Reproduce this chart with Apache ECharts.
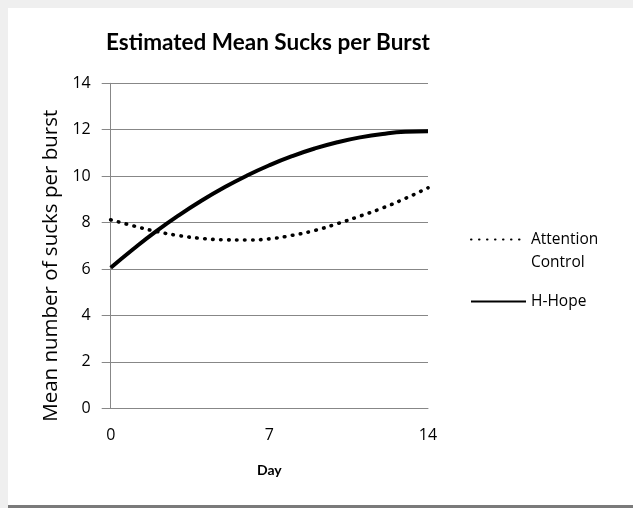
<!DOCTYPE html>
<html><head><meta charset="utf-8">
<script src="https://cdn.jsdelivr.net/npm/echarts@6/dist/echarts.min.js"></script>
<style>
html,body{margin:0;padding:0;background:#fff;}
#wrap{position:relative;width:633px;height:508px;overflow:hidden;background:#fff;}
#top{position:absolute;left:0;top:0;width:633px;height:8px;background:#efefef;}
#left{position:absolute;left:0;top:0;width:8px;height:508px;background:#efefef;}
#bot{position:absolute;left:8px;top:505px;width:625px;height:3px;background:#7a7a7a;}
#chart{position:absolute;left:0;top:0;width:633px;height:508px;}
</style></head>
<body><div id="wrap"><div id="top"></div><div id="left"></div><div id="bot"></div><div id="chart"></div></div>
<script>
const days = [0,1,2,3,4,5,6,7,8,9,10,11,12,13,14];
const attentionControl = [8.12,7.86,7.62,7.44,7.32,7.26,7.25,7.30,7.45,7.66,7.95,8.28,8.63,9.04,9.50];
const hHope = [6.05,6.86,7.62,8.31,8.94,9.51,10.02,10.47,10.86,11.19,11.46,11.67,11.82,11.91,11.93];
const xTicks = [0,7,14];
const yTicks = [0,2,4,6,8,10,12,14];
const seriesNames = ['Attention Control','H-Hope'];

const pairs = v => days.map((d,i)=>[d,v[i]]);
const font = 'Lato, "Open Sans", sans-serif';
const font2 = '"Open Sans", Lato, sans-serif';
const grey = '#878787';
const chart = echarts.init(document.getElementById('chart'));
chart.setOption({
  animation:false,
  title:{text:'Estimated Mean Sucks per Burst',left:263,top:26,textAlign:'center',
    textStyle:{fontFamily:font,fontWeight:'bold',fontSize:22.5,color:'#000'}},
  grid:{left:110.7,right:205,top:83.3,bottom:99.7},
  legend:[
    {data:[seriesNames[0]],left:470,top:205,padding:0,itemWidth:55,itemHeight:14,
     itemStyle:{opacity:0},
     formatter:()=>'\u00a0\nAttention\nControl',
     textStyle:{fontFamily:font2,fontSize:15.5,color:'#000',lineHeight:23}},
    {data:[seriesNames[1]],left:470,top:290,padding:0,itemWidth:55,itemHeight:14,
     itemStyle:{opacity:0},
     textStyle:{fontFamily:font2,fontSize:15.5,color:'#000',lineHeight:23}}
  ],
  xAxis:{type:'value',min:0,max:14,interval:7,name:'Day',nameLocation:'middle',nameGap:55,
    nameTextStyle:{fontFamily:font,fontWeight:'bold',fontSize:14,color:'#000'},
    axisLine:{show:true,lineStyle:{color:grey,width:1}},
    axisTick:{show:false},splitLine:{show:false},
    axisLabel:{fontFamily:font2,fontSize:16,color:'#000',margin:19,
      formatter:v=>xTicks.includes(v)?String(v):''}},
  yAxis:{type:'value',min:0,max:14,interval:2,name:'Mean number of sucks per burst',
    nameLocation:'middle',nameGap:45,
    nameTextStyle:{fontFamily:font2,fontSize:20.5,color:'#000',padding:[0,40,0,0]},
    axisLine:{show:true,lineStyle:{color:grey,width:1}},
    axisTick:{show:true,length:9,lineStyle:{color:grey,width:1}},
    splitLine:{show:true,lineStyle:{color:grey,width:1}},
    axisLabel:{fontFamily:font2,fontSize:16,color:'#000',margin:20,
      formatter:v=>yTicks.includes(v)?String(v):''}},
  series:[
    {name:seriesNames[0],type:'line',data:pairs(attentionControl),smooth:true,symbol:'none',
     lineStyle:{color:'#000',width:3.6,type:[0.5,7.5],cap:'round'},itemStyle:{color:'#000'}},
    {name:seriesNames[1],type:'line',data:pairs(hHope),smooth:true,symbol:'none',
     lineStyle:{color:'#000',width:4},itemStyle:{color:'#000'}}
  ]
});
</script></body></html>
